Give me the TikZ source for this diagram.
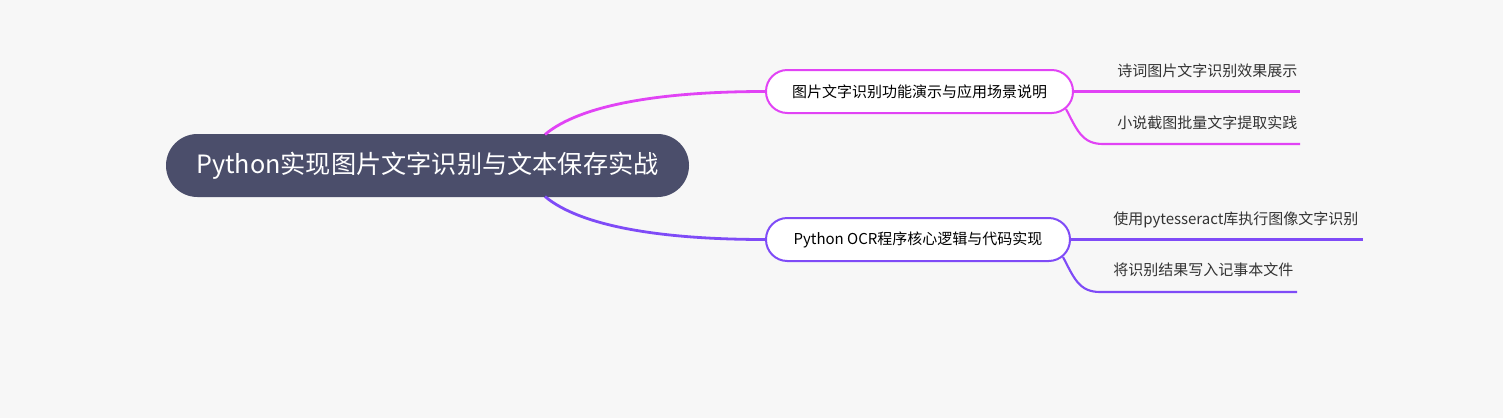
\documentclass[tikz,border=0pt]{standalone}
\usepackage{fontspec}
\setmainfont{Noto Sans CJK SC}
\definecolor{bgc}{HTML}{F7F7F7}
\definecolor{rootc}{HTML}{4B4E6B}
\definecolor{magc}{HTML}{E143F5}
\definecolor{purc}{HTML}{7F4BF7}
\definecolor{leaftxt}{HTML}{333333}
\tikzset{
  rootbox/.style={fill=rootc, text=white, rounded corners=23.6pt,
    minimum width=392.25pt, minimum height=47.25pt, inner sep=0pt,
    font=\fontsize{18.9}{21}\selectfont},
  branchbox/.style={fill=white, draw=#1, line width=1.5pt, rounded corners=16pt,
    minimum height=32.25pt, inner sep=0pt, text=black,
    font=\fontsize{11.25}{13}\selectfont},
  leaftext/.style={anchor=west, inner sep=0pt, text=leaftxt,
    font=\fontsize{11.25}{13}\selectfont},
  mainlink/.style={draw=#1, line width=2.1pt},
  leaflink/.style={draw=#1, line width=1.6pt},
}
\begin{document}
\begin{tikzpicture}[x=0.75pt,y=-0.75pt]
\fill[bgc] (0,0) rectangle (1503,418);
\useasboundingbox (0,0) rectangle (1503,418);

\node[rootbox] (root) at (427.5,165.5) {Python实现图片文字识别与文本保存实战};
\node[branchbox=magc, minimum width=230.25pt] (b1) at (919.5,91.5) {图片文字识别功能演示与应用场景说明};
\node[branchbox=purc, minimum width=228pt] (b2) at (918,239.5) {Python OCR程序核心逻辑与代码实现};

\node[leaftext] (l11) at (1117,71) {诗词图片文字识别效果展示};
\node[leaftext] (l12) at (1117,123) {小说截图批量文字提取实践};
\node[leaftext] (l21) at (1113,220) {使用pytesseract库执行图像文字识别};
\node[leaftext] (l22) at (1113,270) {将识别结果写入记事本文件};

\coordinate (rt) at (545,134.5);
\coordinate (rb) at (545,196.5);
\coordinate (c12) at (1066,109);
\coordinate (c22) at (1063,257);
\coordinate (u11) at (1300,91.5);
\coordinate (u12) at (1300,144);
\coordinate (u21) at (1363,239.5);
\coordinate (u22) at (1297,292);

\path[mainlink=magc] (rt) .. controls (580,105) and (660,91.5) .. (b1.west);
\path[mainlink=purc] (rb) .. controls (580,226) and (660,239.5) .. (b2.west);

\path[leaflink=magc] (b1.east) -- (u11);
\path[leaflink=magc] (c12) .. controls (1077,130) and (1082,144) .. (1103,144) -- (u12);
\path[leaflink=purc] (b2.east) -- (u21);
\path[leaflink=purc] (c22) .. controls (1074,278) and (1079,292) .. (1100,292) -- (u22);
\end{tikzpicture}
\end{document}
